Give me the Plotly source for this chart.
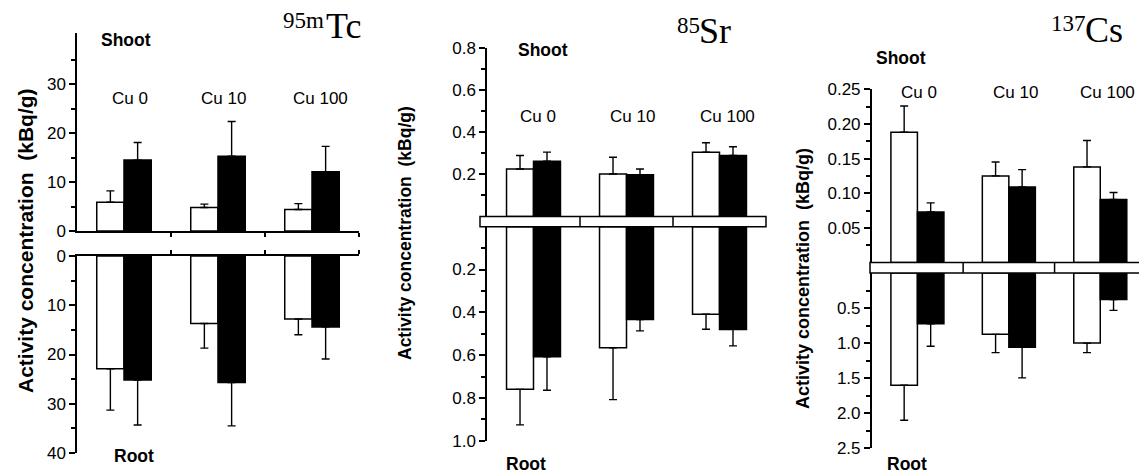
import plotly.graph_objects as go

# the page body adds an 8px margin, so the figure is sized/positioned to compensate
OFF = 8
W, H = 1147 - OFF, 473 - OFF

categories = ["Cu 0", "Cu 10", "Cu 100"]

# 95mTc (kBq/g)
tc_shoot_white = [5.9, 4.8, 4.4]
tc_shoot_white_sd = [2.3, 0.7, 1.2]
tc_shoot_black = [14.5, 15.3, 12.1]
tc_shoot_black_sd = [3.6, 7.1, 5.2]
tc_root_white = [22.9, 13.7, 12.8]
tc_root_white_sd = [8.4, 5.0, 3.2]
tc_root_black = [25.2, 25.7, 14.4]
tc_root_black_sd = [9.1, 8.8, 6.5]

# 85Sr (kBq/g)
sr_shoot_white = [0.226, 0.202, 0.306]
sr_shoot_white_sd = [0.064, 0.080, 0.045]
sr_shoot_black = [0.263, 0.198, 0.290]
sr_shoot_black_sd = [0.043, 0.028, 0.042]
sr_root_white = [0.760, 0.566, 0.409]
sr_root_white_sd = [0.166, 0.242, 0.070]
sr_root_black = [0.608, 0.434, 0.480]
sr_root_black_sd = [0.156, 0.053, 0.077]

# 137Cs (kBq/g)
cs_shoot_white = [0.188, 0.125, 0.138]
cs_shoot_white_sd = [0.038, 0.020, 0.038]
cs_shoot_black = [0.073, 0.109, 0.091]
cs_shoot_black_sd = [0.013, 0.025, 0.010]
cs_root_white = [1.60, 0.875, 1.00]
cs_root_white_sd = [0.50, 0.26, 0.135]
cs_root_black = [0.723, 1.06, 0.377]
cs_root_black_sd = [0.322, 0.436, 0.156]

# tick values
tc_shoot_ticks = [0, 10, 20, 30]
tc_shoot_minor = [5, 15, 25, 35]
tc_root_ticks = [0, 10, 20, 30, 40]
tc_root_minor = [5, 15, 25, 35]
sr_shoot_ticks = [0.2, 0.4, 0.6, 0.8]
sr_shoot_minor = [0.1, 0.3, 0.5, 0.7]
sr_root_ticks = [0.2, 0.4, 0.6, 0.8, 1.0]
sr_root_minor = [0.1, 0.3, 0.5, 0.7, 0.9]
cs_shoot_ticks = [0.05, 0.10, 0.15, 0.20, 0.25]
cs_shoot_minor = [0.025, 0.075, 0.125, 0.175, 0.225]
cs_root_ticks = [0.5, 1.0, 1.5, 2.0, 2.5]
cs_root_minor = [0.25, 0.75, 1.25, 1.75, 2.25]

# panel titles: isotope mass number (superscript) and element symbol
iso_mass = ["95m", "85", "137"]
iso_symbol = ["Tc", "Sr", "Cs"]

FONT = "Liberation Sans, Arial, sans-serif"
SERIF = "Liberation Serif, Times New Roman, serif"


def xp(px):
    return (px - OFF) / W


def yp(py):
    return 1 - (py - OFF) / H


xs = list(range(len(categories)))

fig = go.Figure()


def add_pair(white, wsd, black, bsd, xa, ya):
    for vals, sd, fill in ((white, wsd, "white"), (black, bsd, "black")):
        fig.add_trace(go.Bar(
            x=xs, y=vals, xaxis=xa, yaxis=ya,
            marker=dict(color=fill, line=dict(color="black", width=1.5)),
            error_y=dict(type="data", symmetric=False, array=sd,
                         arrayminus=[0] * len(sd), color="black",
                         thickness=1.4, width=4),
            showlegend=False, offsetgroup=fill,
        ))


add_pair(tc_shoot_white, tc_shoot_white_sd, tc_shoot_black, tc_shoot_black_sd, "x", "y")
add_pair(tc_root_white, tc_root_white_sd, tc_root_black, tc_root_black_sd, "x2", "y2")
add_pair(sr_shoot_white, sr_shoot_white_sd, sr_shoot_black, sr_shoot_black_sd, "x3", "y3")
add_pair(sr_root_white, sr_root_white_sd, sr_root_black, sr_root_black_sd, "x4", "y4")
add_pair(cs_shoot_white, cs_shoot_white_sd, cs_shoot_black, cs_shoot_black_sd, "x5", "y5")
add_pair(cs_root_white, cs_root_white_sd, cs_root_black, cs_root_black_sd, "x6", "y6")

TICKSZ = 17


def yax(top, bot, rng, tv, fmt, minor, anchor):
    return dict(
        domain=[yp(bot), yp(top)], range=rng, anchor=anchor, automargin=False,
        tickmode="array", tickvals=tv, ticktext=[fmt.format(v) for v in tv],
        ticks="outside", ticklen=6, tickwidth=1.5, tickcolor="black",
        showline=True, linecolor="black", linewidth=1.5,
        showgrid=False, zeroline=False,
        tickfont=dict(family=FONT, size=TICKSZ, color="black"),
        minor=dict(tickmode="array", tickvals=minor, ticks="outside",
                   ticklen=4, tickwidth=1.5, tickcolor="black", showgrid=False),
    )


def xax(left, right, anchor, side, show):
    d = dict(domain=[xp(left), min(1.0, xp(right))], range=[-0.5, 2.5], anchor=anchor,
             automargin=False, showgrid=False, zeroline=False,
             showticklabels=False, side=side)
    if show:
        d.update(showline=True, linecolor="black", linewidth=1.5,
                 tickmode="array", tickvals=[0.5, 1.5, 2.5], ticks="outside",
                 ticklen=4, tickwidth=1.5, tickcolor="black")
    else:
        d.update(showline=False, ticks="")
    return d


P1 = (77, 359)
P2 = (487, 766)
P3 = (871.7, 1146)

fig.update_layout(
    template="none",
    width=W, height=H, autosize=False,
    margin=dict(l=0, r=0, t=0, b=0, pad=0),
    paper_bgcolor="white", plot_bgcolor="white",
    barmode="group", bargap=0.42, bargroupgap=0,
    font=dict(family=FONT, color="black"),
    xaxis=xax(*P1, "y", "bottom", True),
    xaxis2=xax(*P1, "y2", "top", True),
    xaxis3=xax(*P2, "y3", "bottom", False),
    xaxis4=xax(*P2, "y4", "top", False),
    xaxis5=xax(*P3, "y5", "bottom", False),
    xaxis6=xax(*P3, "y6", "top", False),
    yaxis=yax(33, 231, [0, 40.5], tc_shoot_ticks, "{:.0f}", tc_shoot_minor, "x"),
    yaxis2=yax(256, 453, [40, 0], tc_root_ticks, "{:.0f}", tc_root_minor, "x2"),
    yaxis3=yax(48.3, 216.5, [0, 0.8], sr_shoot_ticks, "{:.1f}", sr_shoot_minor, "x3"),
    yaxis4=yax(226.7, 440.7, [1.0, 0], sr_root_ticks, "{:.1f}", sr_root_minor, "x4"),
    yaxis5=yax(89.3, 262.5, [0, 0.25], cs_shoot_ticks, "{:.2f}", cs_shoot_minor, "x5"),
    yaxis6=yax(273, 448.3, [2.5, 0], cs_root_ticks, "{:.1f}", cs_root_minor, "x6"),
)

# axis-break bands for Sr and Cs
shapes = []
for (l, r, top, bot, xa) in ((480, 766, 216.5, 226.7, "x3"), (870, 1146.2, 262.5, 273, "x5")):
    shapes.append(dict(type="rect", xref="paper", yref="paper",
                       x0=xp(l), x1=min(xp(r), 0.9995), y0=yp(bot), y1=yp(top),
                       line=dict(color="black", width=1.5), fillcolor="white",
                       layer="above"))
    for xv in (0.5, 1.5):
        shapes.append(dict(type="line", xref=xa, yref="paper", x0=xv, x1=xv,
                           y0=yp(bot), y1=yp(top),
                           line=dict(color="black", width=1.5), layer="above"))
fig.update_layout(shapes=shapes)

ann = []
Y_TITLE = "Activity concentration\u00a0 (kBq/g)"
for x, y, sz in ((25, 241, 21), (405, 233, 17.5), (803, 278, 18)):
    ann.append(dict(text=Y_TITLE, x=xp(x), y=yp(y), xref="paper", yref="paper",
                    xanchor="center", yanchor="middle",
                    textangle=-90, showarrow=False,
                    font=dict(family=FONT, size=sz, color="black", weight="bold")))

for x, y, t in ((126, 40, "Shoot"), (134, 456, "Root"),
                (542.5, 50, "Shoot"), (526, 464, "Root"),
                (900.5, 58, "Shoot"), (906.5, 463.5, "Root")):
    ann.append(dict(text=t, x=xp(x), y=yp(y), xref="paper", yref="paper",
                    xanchor="center", yanchor="middle", showarrow=False,
                    font=dict(family=FONT, size=17.5, color="black", weight="bold")))

for xa, ypx, shifts in (("x", 99, (6, 5, 8)), ("x3", 117, (4.5, 5.7, 7.7)),
                        ("x5", 92.7, (2, 6.7, 7.5))):
    for i, c in enumerate(categories):
        ann.append(dict(text=c, x=xs[i], xref=xa, y=yp(ypx), yref="paper",
                        xanchor="center", yanchor="middle",
                        xshift=shifts[i], showarrow=False,
                        font=dict(family=FONT, size=17, color="black")))

# titles: symbol (36px serif) right-aligned, mass number (23px) just left of it
MAIN, SUP = 36, 23
for mass, sym, xr, base in zip(iso_mass, iso_symbol, (363, 733, 1125), (38.5, 43.3, 41.7)):
    sym_w = {"Tc": 1.055, "Sr": 0.889, "Cs": 1.056}[sym] * MAIN
    ann.append(dict(text=sym, x=xp(xr), y=yp(base - 0.3375 * MAIN),
                    xref="paper", yref="paper", xanchor="right", yanchor="middle",
                    showarrow=False, font=dict(family=SERIF, size=MAIN, color="black")))
    ann.append(dict(text=mass, x=xp(xr - sym_w + 1), y=yp(base - 10.3 - 0.3375 * SUP),
                    xref="paper", yref="paper", xanchor="right", yanchor="middle",
                    showarrow=False, font=dict(family=SERIF, size=SUP, color="black")))

fig.update_layout(annotations=ann)

fig.write_html("out.html")
